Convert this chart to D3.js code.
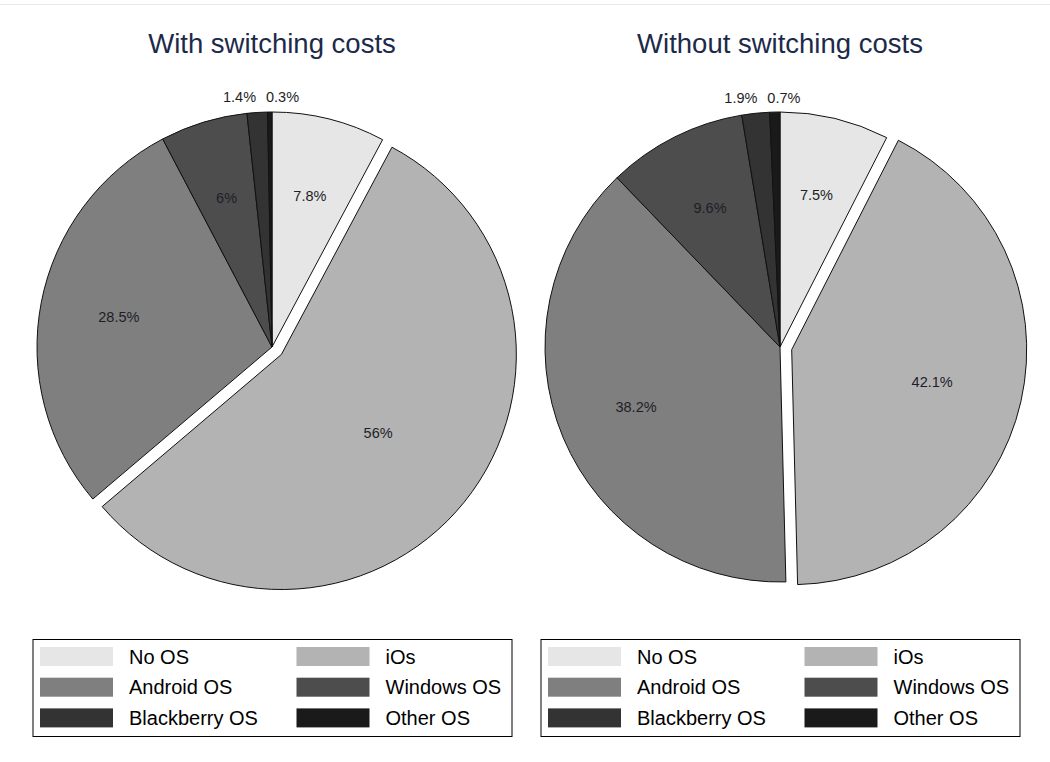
<!DOCTYPE html>
<html>
<head>
<meta charset="utf-8">
<script src="https://cdn.jsdelivr.net/npm/d3@7"></script>
<style>
  html, body { margin: 0; padding: 0; background: #fff; }
  svg { display: block; font-family: "Liberation Sans", Arial, sans-serif; }
</style>
</head>
<body>
<svg id="chart" width="1050" height="762"></svg>
<script>
// ---- data ----
const categories = ["No OS", "iOs", "Android OS", "Windows OS", "Blackberry OS", "Other OS"];
const panelTitles = ["With switching costs", "Without switching costs"];
const withCosts = [7.8, 56, 28.5, 6, 1.4, 0.3];
const withoutCosts = [7.5, 42.1, 38.2, 9.6, 1.9, 0.7];
const explodedCategory = "iOs";
const sliceColors = ["#e6e6e6", "#b3b3b3", "#7f7f7f", "#4d4d4d", "#333333", "#1a1a1a"];

const seriesList = [withCosts, withoutCosts];

// ---- layout ----
const W = 1050, H = 762;
const svg = d3.select("#chart");

// faint top rule
svg.append("line").attr("x1", 0).attr("x2", W).attr("y1", 4.5).attr("y2", 4.5)
  .attr("stroke", "#e4eaee").attr("stroke-width", 1);

const panelX = d3.scaleBand().domain(panelTitles).range([18, 1034]);
const color = d3.scaleOrdinal().domain(categories).range(sliceColors);

const R = 235;
const cy = 347;
const explodeDist = 12;
const labelFrac = 0.664;
const outsideFrac = 1.06;
const bigSliceLabelFrac = { "With switching costs": { "iOs": 0.58 } };

const pie = d3.pie().sort(null).value(d => d.value).startAngle(0).endAngle(2 * Math.PI);
const arc = d3.arc().innerRadius(0).outerRadius(R);

panelTitles.forEach((title, pi) => {
  const cx = panelX(title) + panelX.bandwidth() / 2;
  const data = categories.map((c, i) => ({ cat: c, value: seriesList[pi][i] }));
  const arcs = pie(data);

  const g = svg.append("g").attr("transform", `translate(${cx},${cy})`);

  // title
  svg.append("text")
    .attr("x", cx).attr("y", 53)
    .attr("text-anchor", "middle")
    .attr("font-size", 27.5)
    .attr("fill", "#1c2a4a")
    .text(title);

  const offset = d => {
    if (d.data.cat !== explodedCategory) return [0, 0];
    const a = (d.startAngle + d.endAngle) / 2;
    return [Math.sin(a) * explodeDist, -Math.cos(a) * explodeDist];
  };

  g.selectAll("path.slice")
    .data(arcs)
    .join("path")
    .attr("class", "slice")
    .attr("transform", d => `translate(${offset(d)[0]},${offset(d)[1]})`)
    .attr("d", arc)
    .attr("fill", d => color(d.data.cat))
    .attr("stroke", "#111")
    .attr("stroke-width", 1)
    .attr("stroke-linejoin", "round");

  // labels
  const labels = arcs.map(d => {
    const a = (d.startAngle + d.endAngle) / 2;
    const outside = d.data.value < 3;
    let frac = outside ? outsideFrac : labelFrac;
    const ov = bigSliceLabelFrac[title] && bigSliceLabelFrac[title][d.data.cat];
    if (ov) frac = ov;
    return {
      text: d.data.value + "%",
      x: Math.sin(a) * R * frac,
      y: -Math.cos(a) * R * frac,
      outside: outside
    };
  });

  // spread overlapping outside labels symmetrically about their mean
  const outs = labels.filter(l => l.outside).sort((a, b) => a.x - b.x);
  if (outs.length > 1) {
    const spacing = 43;
    const mean = d3.mean(outs, l => l.x) - 2;
    const meanY = d3.mean(outs, l => l.y);
    outs.forEach((l, i) => {
      l.x = mean + (i - (outs.length - 1) / 2) * spacing;
      l.y = meanY - 1;
    });
  }

  g.selectAll("text.lbl")
    .data(labels)
    .join("text")
    .attr("class", "lbl")
    .attr("x", d => d.x)
    .attr("y", d => d.y)
    .attr("dy", "0.35em")
    .attr("text-anchor", "middle")
    .attr("font-size", 14.5)
    .attr("fill", "#1e1e28")
    .text(d => d.text);

  // legend
  const boxW = 479, boxH = 97;
  const bx = cx - boxW / 2, by = 639;
  const lg = svg.append("g").attr("transform", `translate(${bx},${by})`);
  lg.append("rect")
    .attr("x", 0.5).attr("y", 0.5).attr("width", boxW).attr("height", boxH)
    .attr("fill", "#fff").attr("stroke", "#000").attr("stroke-width", 1);

  const colX = d3.scaleOrdinal().domain([0, 1]).range([7.5, 264]);
  const rowY = d3.scaleLinear().domain([0, 1]).range([8, 38.7]);
  const items = lg.selectAll("g.item")
    .data(categories)
    .join("g")
    .attr("class", "item")
    .attr("transform", (c, i) => `translate(${colX(i % 2)},${rowY(Math.floor(i / 2))})`);
  items.append("rect")
    .attr("width", 73).attr("height", 19)
    .attr("fill", c => color(c));
  items.append("text")
    .attr("x", 89).attr("y", 9.5)
    .attr("dy", "0.36em")
    .attr("font-size", 20)
    .attr("fill", "#000")
    .text(c => c);
});
</script>
</body>
</html>
